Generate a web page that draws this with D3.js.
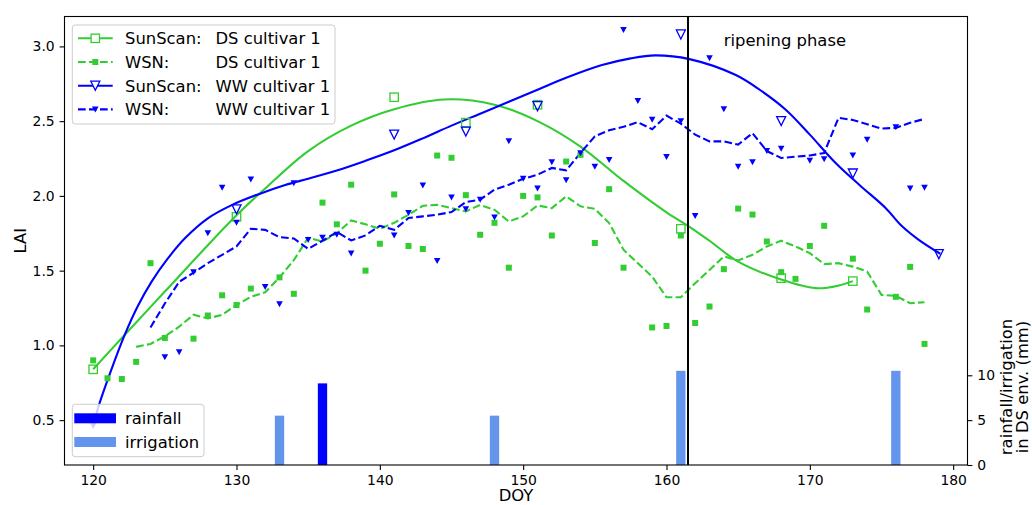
<!DOCTYPE html>
<html>
<head>
<meta charset="utf-8">
<script src="https://cdn.jsdelivr.net/npm/d3@7"></script>
<style>
  body { margin: 0; background: #fff; }
  svg text { font-family: "DejaVu Sans", sans-serif; fill: #000; }
</style>
</head>
<body>
<div id="chart"></div>
<script>
"use strict";

// SunScan measurements (hollow markers)
var sunDsDoy = [120, 130, 141, 146, 151, 161, 168, 173];
var sunDsLai = [0.84, 1.86, 2.66, 2.49, 2.61, 1.78, 1.45, 1.43];
var sunWwDoy = [120, 130, 141, 146, 151, 161, 168, 173, 179];
var sunWwLai = [0.48, 1.91, 2.41, 2.43, 2.60, 3.08, 2.50, 2.15, 1.61];

// fitted SunScan curves
var fitDsDoy = [120, 122, 125, 128, 130, 132, 135, 138, 141, 144.5, 148, 151, 154, 157, 160, 161.5, 163, 165, 168, 170.4, 172, 173];
var fitDsLai = [0.84, 1.05, 1.36, 1.67, 1.87, 2.05, 2.30, 2.47, 2.58, 2.645, 2.61, 2.50, 2.33, 2.10, 1.89, 1.80, 1.70, 1.56, 1.44, 1.383, 1.40, 1.43];
var fitWwDoy = [120, 120.4, 121.2, 122.2, 123.1, 124.1, 125.2, 126.4, 128, 129.7, 131.5, 133.4, 135, 137, 139, 141, 143, 145, 147, 149, 151, 153, 155.5, 157.5, 159.2, 161.6, 164.8, 166.5, 168.3, 170, 171.8, 173.5, 175.3, 176.4, 177.6, 179.1];
var fitWwLai = [0.46, 0.60, 0.82, 1.07, 1.26, 1.43, 1.58, 1.716, 1.85, 1.94, 2.01, 2.073, 2.115, 2.17, 2.235, 2.305, 2.385, 2.47, 2.55, 2.63, 2.71, 2.79, 2.875, 2.92, 2.94, 2.915, 2.81, 2.71, 2.578, 2.41, 2.22, 2.07, 1.918, 1.80, 1.706, 1.613];

// WSN daily values (small filled markers)
var wsnDsDoy = [120, 121, 122, 123, 124, 125, 127, 128, 129, 130, 131, 133, 134, 136, 137, 138, 139, 140, 141, 142, 143, 144, 145, 146, 147, 148, 149, 150, 151, 152, 153, 154, 155, 156, 157, 159, 160, 161, 162, 163, 164, 165, 166, 167, 168, 169, 170, 171, 173, 174, 176, 177, 178];
var wsnDsLai = [0.90, 0.78, 0.775, 0.89, 1.55, 1.05, 1.045, 1.20, 1.335, 1.27, 1.38, 1.455, 1.345, 1.955, 1.81, 2.075, 1.50, 1.68, 2.01, 1.665, 1.645, 2.27, 2.255, 2.005, 1.74, 1.82, 1.52, 2.00, 1.99, 1.735, 2.23, 2.275, 1.685, 2.045, 1.52, 1.12, 1.13, 1.735, 1.15, 1.26, 1.51, 1.915, 1.875, 1.695, 1.49, 1.445, 1.665, 1.80, 1.58, 1.24, 1.325, 1.525, 1.01];
var wsnWwDoy = [125, 126, 127, 128, 129, 130, 131, 132, 133, 134, 135, 136, 137, 138, 141, 142, 143, 144, 145, 146, 147, 148, 149, 150, 151, 152, 153, 154, 155, 156, 157, 158, 159, 160, 161, 162, 163, 164, 165, 166, 167, 168, 170, 171, 173, 174, 176, 177, 178];
var wsnWwLai = [0.92, 0.955, 1.49, 1.75, 2.055, 1.82, 2.11, 1.39, 1.275, 2.085, 1.705, 1.72, 1.74, 1.615, 1.735, 1.885, 2.07, 1.565, 1.99, 1.91, 1.975, 1.855, 2.365, 2.115, 2.05, 2.225, 2.105, 2.285, 2.195, 2.24, 3.11, 2.635, 2.51, 2.26, 2.50, 1.865, 2.92, 2.58, 2.195, 2.225, 2.30, 2.315, 2.235, 2.245, 2.27, 2.375, 2.46, 2.05, 2.055];

// WSN smoothed (dashed)
var smDsDoy = d3.range(123, 179);
var smDsLai = [0.99, 1.01, 1.06, 1.125, 1.205, 1.18, 1.205, 1.27, 1.325, 1.355, 1.455, 1.57, 1.72, 1.695, 1.75, 1.836, 1.81, 1.78, 1.82, 1.874, 1.934, 1.94, 1.918, 1.896, 1.94, 1.907, 1.829, 1.863, 1.936, 1.918, 1.997, 1.93, 1.914, 1.818, 1.64, 1.55, 1.46, 1.322, 1.322, 1.416, 1.505, 1.595, 1.568, 1.606, 1.662, 1.70, 1.662, 1.617, 1.544, 1.55, 1.527, 1.494, 1.338, 1.331, 1.282, 1.289];
var smWwDoy = d3.range(124, 179);
var smWwLai = [1.12, 1.28, 1.425, 1.487, 1.55, 1.606, 1.662, 1.78, 1.773, 1.724, 1.715, 1.646, 1.70, 1.758, 1.702, 1.736, 1.80, 1.773, 1.852, 1.863, 1.874, 1.892, 1.959, 1.975, 2.042, 2.075, 2.114, 2.142, 2.187, 2.171, 2.287, 2.399, 2.439, 2.462, 2.493, 2.446, 2.537, 2.483, 2.41, 2.365, 2.365, 2.343, 2.42, 2.30, 2.254, 2.262, 2.27, 2.287, 2.522, 2.508, 2.48, 2.45, 2.455, 2.489, 2.515];

// water input (mm)
var rainDoy = [136];
var rainMm = [9.1];
var irrDoy = [133, 148, 161, 176];
var irrMm = [5.5, 5.5, 10.5, 10.5];

var ripeningDoy = 161.5;

var xTicks = [120, 130, 140, 150, 160, 170, 180];
var yTicks = [0.5, 1.0, 1.5, 2.0, 2.5, 3.0];
var y2Ticks = [0, 5, 10];

var legendLabels = [["SunScan:", "DS cultivar 1"], ["WSN:", "DS cultivar 1"], ["SunScan:", "WW cultivar 1"], ["WSN:", "WW cultivar 1"]];
var barLabels = ["rainfall", "irrigation"];

var dsColor = "#32cd32", wwColor = "#0000ff", irrColor = "#6495ed";

// set the dimensions and margins of the graph
var margin = {top: 16.5, right: 64.5, bottom: 40, left: 64.5},
  width = 1032 - margin.left - margin.right,
  height = 505 - margin.top - margin.bottom;

var svgRoot = d3.select("#chart")
.append("svg")
  .attr("width", 1032)
  .attr("height", 505);
var svg = svgRoot.append("g")
  .attr("transform", "translate(" + margin.left + "," + margin.top + ")");

var x = d3.scaleLinear().domain([118, 181]).range([0, width]);
var y = d3.scaleLinear().domain([0.2, 3.2]).range([height, 0]);
var y2 = d3.scaleLinear().domain([0, 50]).range([height, 0]);

function pairs(xs, ys) { return xs.map(function(d, i) { return [d, ys[i]]; }); }

// triangle pointing down
function triDown(cx, cy, w, h) {
  return "M" + (cx - w / 2) + "," + (cy - h / 2) + "L" + (cx + w / 2) + "," + (cy - h / 2) + "L" + cx + "," + (cy + h / 2) + "Z";
}

// axes
var tickFont = "13.9px";
var xAxis = svg.append("g")
  .attr("transform", "translate(0," + height + ")")
  .call(d3.axisBottom(x).tickValues(xTicks).tickSize(4.9).tickPadding(4.9).tickSizeOuter(0));
var yAxis = svg.append("g")
  .call(d3.axisLeft(y).tickValues(yTicks).tickFormat(d3.format(".1f")).tickSize(4.9).tickPadding(4.9).tickSizeOuter(0));
var y2Axis = svg.append("g")
  .attr("transform", "translate(" + width + ",0)")
  .call(d3.axisRight(y2).tickValues(y2Ticks).tickSize(4.9).tickPadding(4.9).tickSizeOuter(0));
[xAxis, yAxis, y2Axis].forEach(function(a) {
  a.select(".domain").remove();
  a.selectAll("text").style("font-size", tickFont).style("font-family", "DejaVu Sans");
  a.selectAll("line").attr("stroke", "#000").attr("stroke-width", 1.1);
});

var line = d3.line().x(function(d) { return x(d[0]); }).y(function(d) { return y(d[1]); });
var smooth = d3.line().curve(d3.curveCatmullRom.alpha(0.5))
  .x(function(d) { return x(d[0]); }).y(function(d) { return y(d[1]); });

// fitted curves
svg.append("path").attr("d", smooth(pairs(fitDsDoy, fitDsLai)))
  .attr("fill", "none").attr("stroke", dsColor).attr("stroke-width", 2.1);
svg.append("path").attr("d", smooth(pairs(fitWwDoy, fitWwLai)))
  .attr("fill", "none").attr("stroke", wwColor).attr("stroke-width", 2.1);

// dashed WSN averages
svg.append("path").attr("d", line(pairs(smDsDoy, smDsLai)))
  .attr("fill", "none").attr("stroke", dsColor).attr("stroke-width", 2.1)
  .attr("stroke-dasharray", "7.7,3.3");
svg.append("path").attr("d", line(pairs(smWwDoy, smWwLai)))
  .attr("fill", "none").attr("stroke", wwColor).attr("stroke-width", 2.1)
  .attr("stroke-dasharray", "7.7,3.3");

// SunScan DS hollow squares
svg.selectAll(".sunDs").data(pairs(sunDsDoy, sunDsLai)).enter().append("rect")
  .attr("x", function(d) { return x(d[0]) - 4.2; })
  .attr("y", function(d) { return y(d[1]) - 4.2; })
  .attr("width", 8.4).attr("height", 8.4)
  .attr("fill", "none").attr("stroke", dsColor).attr("stroke-width", 1.3);

// WSN DS filled squares
svg.selectAll(".wsnDs").data(pairs(wsnDsDoy, wsnDsLai)).enter().append("rect")
  .attr("x", function(d) { return x(d[0]) - 3; })
  .attr("y", function(d) { return y(d[1]) - 3; })
  .attr("width", 6).attr("height", 6)
  .attr("fill", dsColor);

// SunScan WW hollow triangles
svg.selectAll(".sunWw").data(pairs(sunWwDoy, sunWwLai)).enter().append("path")
  .attr("d", function(d) { return triDown(x(d[0]), y(d[1]), 9, 9); })
  .attr("fill", "none").attr("stroke", wwColor).attr("stroke-width", 1.3);

// WSN WW filled triangles
svg.selectAll(".wsnWw").data(pairs(wsnWwDoy, wsnWwLai)).enter().append("path")
  .attr("d", function(d) { return triDown(x(d[0]), y(d[1]), 6.6, 6); })
  .attr("fill", wwColor);

// legend for LAI series
var leg = svg.append("g").attr("transform", "translate(" + (72.3 - margin.left) + "," + (25 - margin.top) + ")");
leg.append("rect").attr("width", 262.7).attr("height", 99).attr("rx", 3)
  .attr("fill", "#fff").attr("fill-opacity", 0.8).attr("stroke", "#cccccc").attr("stroke-width", 1);
legendLabels.forEach(function(lab, i) {
  var cy = 13.3 + i * 23.7;
  var col = i < 2 ? dsColor : wwColor;
  var g = leg.append("g");
  g.append("line").attr("x1", 5.7).attr("x2", 40.4).attr("y1", cy).attr("y2", cy)
    .attr("stroke", col).attr("stroke-width", 2.1)
    .attr("stroke-dasharray", i % 2 ? "7.7,3.3" : null);
  var mx = 23;
  if (i === 0) g.append("rect").attr("x", mx - 4.2).attr("y", cy - 4.2).attr("width", 8.4).attr("height", 8.4)
    .attr("fill", "#fff").attr("stroke", col).attr("stroke-width", 1.3);
  if (i === 1) g.append("rect").attr("x", mx - 3).attr("y", cy - 3).attr("width", 6).attr("height", 6).attr("fill", col);
  if (i === 2) g.append("path").attr("d", triDown(mx, cy, 9, 9)).attr("fill", "#fff").attr("stroke", col).attr("stroke-width", 1.3);
  if (i === 3) g.append("path").attr("d", triDown(mx, cy, 6.6, 6)).attr("fill", col);
  g.append("text").attr("x", 52.7).attr("y", cy).attr("dy", "0.36em").style("font-size", "16.4px").text(lab[0]);
  g.append("text").attr("x", 143.2).attr("y", cy).attr("dy", "0.36em").style("font-size", "16.4px").text(lab[1]);
});

// rainfall / irrigation bars on right axis
var bw = x(118.65) - x(118);
svg.selectAll(".irr").data(pairs(irrDoy, irrMm)).enter().append("rect")
  .attr("x", function(d) { return x(d[0]) - bw / 2; })
  .attr("y", function(d) { return y2(d[1]); })
  .attr("width", bw)
  .attr("height", function(d) { return height - y2(d[1]); })
  .attr("fill", irrColor);
svg.selectAll(".rain").data(pairs(rainDoy, rainMm)).enter().append("rect")
  .attr("x", function(d) { return x(d[0]) - bw / 2; })
  .attr("y", function(d) { return y2(d[1]); })
  .attr("width", bw)
  .attr("height", function(d) { return height - y2(d[1]); })
  .attr("fill", wwColor);

// ripening phase marker
svg.append("line")
  .attr("x1", x(ripeningDoy)).attr("x2", x(ripeningDoy))
  .attr("y1", 0).attr("y2", height)
  .attr("stroke", "#000").attr("stroke-width", 2);
svg.append("text")
  .attr("x", x(164)).attr("y", y(3.0))
  .style("font-size", "16.4px")
  .text("ripening phase");

// legend for bars
var leg2 = svg.append("g").attr("transform", "translate(" + (72.3 - margin.left) + "," + (404.3 - margin.top) + ")");
leg2.append("rect").attr("width", 131.7).attr("height", 52.4).attr("rx", 3)
  .attr("fill", "#fff").attr("fill-opacity", 0.8).attr("stroke", "#cccccc").attr("stroke-width", 1);
barLabels.forEach(function(lab, i) {
  var cy = 14 + i * 23.7;
  leg2.append("rect").attr("x", 2).attr("y", cy - 5).attr("width", 41.7).attr("height", 10)
    .attr("fill", i === 0 ? wwColor : irrColor);
  leg2.append("text").attr("x", 52.7).attr("y", cy).attr("dy", "0.36em").style("font-size", "16.4px").text(lab);
});

// frame
svg.append("rect").attr("width", width).attr("height", height)
  .attr("fill", "none").attr("stroke", "#000").attr("stroke-width", 1.1);

// axis labels
svgRoot.append("text")
  .attr("transform", "translate(26," + (margin.top + height / 2) + ") rotate(-90)")
  .attr("text-anchor", "middle").style("font-size", "16.4px").text("LAI");
svgRoot.append("text")
  .attr("x", margin.left + width / 2).attr("y", 501)
  .attr("text-anchor", "middle").style("font-size", "16.4px").text("DOY");
svgRoot.append("text")
  .attr("transform", "translate(1011.5,387) rotate(-90)")
  .attr("text-anchor", "middle").style("font-size", "16.4px").text("rainfall/irrigation");
svgRoot.append("text")
  .attr("transform", "translate(1027.5,387) rotate(-90)")
  .attr("text-anchor", "middle").style("font-size", "16.4px").text("in DS env. (mm)");
</script>
</body>
</html>
